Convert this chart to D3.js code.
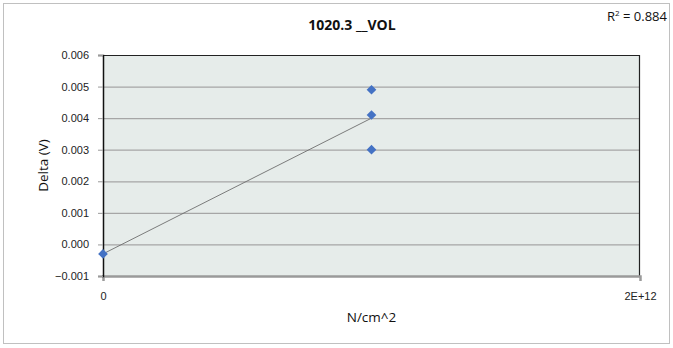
<!DOCTYPE html>
<html>
<head>
<meta charset="utf-8">
<script src="https://cdn.jsdelivr.net/npm/d3@7"></script>
<style>
  body { margin: 0; background: #fff; }
  svg { display: block; font-family: "Open Sans", "Liberation Sans", sans-serif; }
</style>
</head>
<body>
<div id="chart"></div>
<script>
// datos
const xValores = [0, 1e12, 1e12, 1e12];
const yValores = [-0.0003, 0.0049, 0.0041, 0.0030];
const yTicks = [-0.001, 0, 0.001, 0.002, 0.003, 0.004, 0.005, 0.006];
const xTicks = [0, 2e12];
const titulo = "1020.3 __VOL";
const tituloX = "N/cm^2";
const tituloY = "Delta (V)";

const width = 673, height = 348;
const margin = { top: 55, right: 33, bottom: 72, left: 103 };
const innerW = width - margin.left - margin.right;
const innerH = height - margin.top - margin.bottom;

const puntos = xValores.map((x, i) => ({ x, y: yValores[i] }));

// regresión lineal (línea de tendencia de Excel)
const mx = d3.mean(puntos, d => d.x), my = d3.mean(puntos, d => d.y);
const sxy = d3.sum(puntos, d => (d.x - mx) * (d.y - my));
const sxx = d3.sum(puntos, d => (d.x - mx) ** 2);
const pendiente = sxy / sxx;
const corte = my - pendiente * mx;
const sst = d3.sum(puntos, d => (d.y - my) ** 2);
const sse = d3.sum(puntos, d => (d.y - (corte + pendiente * d.x)) ** 2);
const r2 = 1 - sse / sst;

const svg = d3.select("#chart").append("svg")
  .attr("width", width).attr("height", height);

svg.append("rect")
  .attr("x", 3.5).attr("y", 3.5)
  .attr("width", width - 7).attr("height", height - 8)
  .attr("fill", "#fff").attr("stroke", "#c0c0c0");

const g = svg.append("g").attr("transform", `translate(${margin.left},${margin.top})`);

const x = d3.scaleLinear().domain([0, 2e12]).range([0, innerW]);
const y = d3.scaleLinear().domain([-0.001, 0.006]).range([innerH, 0]);

g.append("rect")
  .attr("width", innerW).attr("height", innerH)
  .attr("fill", "#e6ecea");

// rejilla
g.append("g")
  .call(d3.axisLeft(y).tickValues(yTicks).tickSize(-innerW).tickFormat(""))
  .call(s => s.select(".domain").remove())
  .selectAll("line")
  .attr("stroke", "#a6a6a6").attr("stroke-width", 1.2);

// borde superior y derecho
g.append("path")
  .attr("d", `M0,0.5H${innerW - 0.5}V${innerH}`)
  .attr("fill", "none").attr("stroke", "#222").attr("stroke-width", 1.2);

// eje x
const ejeX = g.append("g")
  .attr("transform", `translate(0,${innerH})`)
  .call(d3.axisBottom(x).tickValues(xTicks).tickSize(5).tickPadding(11)
    .tickFormat(d => d === 0 ? "0" : "2E+12"));
ejeX.select(".domain").attr("stroke", "#9a9a9a").attr("stroke-width", 2.5);
ejeX.selectAll(".tick line").attr("stroke", "#9a9a9a");
ejeX.selectAll("text").attr("font-size", 11).attr("fill", "#222");

// eje y
const ejeY = g.append("g")
  .call(d3.axisLeft(y).tickValues(yTicks).tickSize(5).tickPadding(9)
    .tickFormat(d3.format(".3f")));
ejeY.select(".domain").attr("stroke", "#111").attr("stroke-width", 1.5);
ejeY.selectAll(".tick line").attr("stroke", "#9a9a9a");
ejeY.selectAll("text").attr("font-size", 11).attr("fill", "#222");

// línea de tendencia
const xMax = d3.max(xValores);
g.append("line")
  .attr("x1", x(0)).attr("y1", y(corte))
  .attr("x2", x(xMax)).attr("y2", y(corte + pendiente * xMax))
  .attr("stroke", "#6e6e6e").attr("stroke-width", 0.9);

// marcadores
g.selectAll(".punto").data(puntos).join("path")
  .attr("class", "punto")
  .attr("d", d3.symbol(d3.symbolDiamond2, 60))
  .attr("transform", d => `translate(${x(d.x)},${y(d.y)})`)
  .attr("fill", "#4472c4");

// textos
svg.append("text")
  .attr("x", 352).attr("y", 30)
  .attr("text-anchor", "middle")
  .attr("font-size", 14).attr("font-weight", "bold").attr("fill", "#111")
  .text(titulo);

const r2Text = svg.append("text")
  .attr("x", 667).attr("y", 21)
  .attr("text-anchor", "end")
  .attr("font-size", 13).attr("fill", "#111");
r2Text.append("tspan").text("R");
r2Text.append("tspan").attr("font-size", 8).attr("dy", -5).text("2");
r2Text.append("tspan").attr("dy", 5).text(` = ${r2.toFixed(3)}`);

svg.append("text")
  .attr("x", margin.left + innerW / 2).attr("y", 322)
  .attr("text-anchor", "middle")
  .attr("font-size", 13.5).attr("fill", "#111")
  .text(tituloX);

svg.append("text")
  .attr("transform", `translate(48,${margin.top + innerH / 2}) rotate(-90)`)
  .attr("text-anchor", "middle")
  .attr("font-size", 13.5).attr("fill", "#111")
  .text(tituloY);
</script>
</body>
</html>
